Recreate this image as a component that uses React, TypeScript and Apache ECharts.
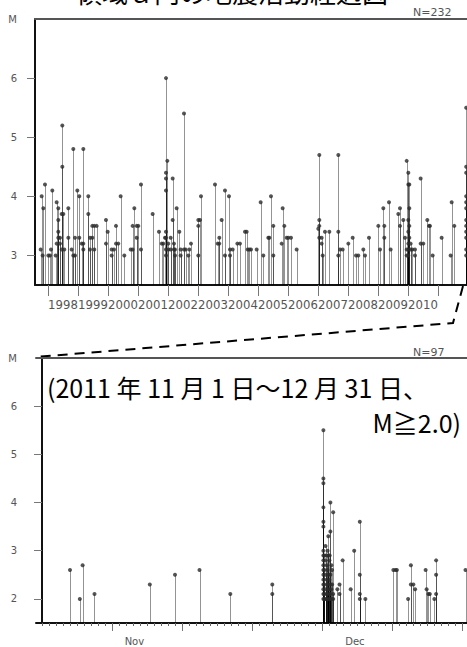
import React, { useEffect, useRef } from "react";
import * as echarts from "echarts";

const TITLE = "領域ａ内の地震活動経過図";
const TOP_N_LABEL = "N=232";
const BOTTOM_N_LABEL = "N=97";
const NOTE_LINE1 = "(2011 年 11 月 1 日～12 月 31 日、";
const NOTE_LINE2 = "M≧2.0)";

const TOP_YEAR_TICKS = [1998, 1999, 2000, 2001, 2002, 2003, 2004, 2005, 2006, 2007, 2008, 2009, 2010, 2011];
const TOP_YEAR_LABELS = [1998, 1999, 2000, 2001, 2002, 2003, 2004, 2005, 2006, 2007, 2008, 2009, 2010];
const TOP_M_TICKS = [3, 4, 5, 6];
const TOP_M_LABELS = [3, 4, 5, 6, 7];
const BOTTOM_M_TICKS = [2, 3, 4, 5, 6];
const BOTTOM_M_LABELS = [2, 3, 4, 5, 6, 7];
const MONTH_LABELS = ["Nov", "Dec"];
const MONTH_LABEL_DAYS = [13.2, 44.7];
const BOTTOM_MAJOR_TICK_DAYS = [10, 20, 30, 40, 50, 60];
const BOTTOM_DAY_TICKS = Array.from({ length: 61 }, (_, i) => i);

// [decimal year, magnitudes at that time]
const TOP_EVENTS: [number, number[]][] = [
  [1997.756, [3.1]], [1997.789, [4.0]], [1997.822, [3.0]], [1997.844, [3.8]], [1997.9, [4.2]],
  [1998.011, [3.0]], [1998.067, [3.0]], [1998.1, [3.1]], [1998.144, [4.1]], [1998.256, [3.0]],
  [1998.289, [3.9, 3.2]], [1998.344, [3.3, 3.8, 3.6, 3.4]], [1998.4, [3.3, 3.2]], [1998.456, [3.1, 3.7]],
  [1998.478, [5.2, 4.5]], [1998.511, [3.7]], [1998.544, [3.1]], [1998.678, [3.8, 3.3]], [1998.789, [3.1]],
  [1998.844, [4.8, 3.0]], [1998.9, [3.3, 3.0]], [1998.978, [4.1]], [1999.044, [4.0, 3.3]], [1999.122, [3.2]],
  [1999.178, [4.8, 3.2, 3.1]], [1999.344, [4.0, 3.7]], [1999.4, [3.3, 3.1]], [1999.478, [3.5, 3.3]],
  [1999.544, [3.5, 3.1]], [1999.622, [3.5]], [1999.933, [3.6, 3.2]], [1999.989, [3.4]],
  [2000.122, [3.1, 3.0]], [2000.2, [3.1]], [2000.267, [3.5, 3.2]], [2000.344, [3.2]], [2000.422, [4.0]],
  [2000.544, [3.0]], [2000.756, [3.1]], [2000.822, [3.5, 3.1]], [2000.878, [3.8]], [2000.956, [3.5, 3.3]],
  [2001.011, [3.5]], [2001.1, [4.2, 3.1]], [2001.489, [3.7]], [2001.7, [3.4]], [2001.789, [3.2]],
  [2001.844, [3.2]], [2001.9, [3.3]], [2001.933, [6.0, 4.4, 4.3, 4.1, 3.4, 3.3, 3.1, 3.0]],
  [2001.978, [4.6]], [2002.011, [3.2, 3.1]], [2002.089, [3.3, 3.1]], [2002.156, [4.3, 3.6]],
  [2002.2, [3.2, 3.1]], [2002.233, [3.1, 3.0]], [2002.289, [3.8]], [2002.378, [3.4]], [2002.422, [3.1, 3.0]],
  [2002.533, [5.4, 3.1]], [2002.589, [3.1]], [2002.678, [3.0]], [2002.711, [3.1]], [2002.767, [3.2]],
  [2003.011, [3.5, 3.6, 3.0]], [2003.067, [3.6]], [2003.1, [4.0]], [2003.567, [4.2]], [2003.656, [3.2]],
  [2003.711, [3.3, 3.2]], [2003.789, [3.6]], [2003.9, [4.1, 3.0]], [2004.033, [4.0]], [2004.067, [3.1, 3.0]],
  [2004.156, [3.1]], [2004.311, [3.2]], [2004.4, [3.2]], [2004.567, [3.4]], [2004.622, [3.4]],
  [2004.656, [3.1]], [2004.711, [3.1]], [2004.767, [3.1]], [2004.956, [3.1]], [2005.089, [3.9]],
  [2005.178, [3.0]], [2005.344, [3.3]], [2005.378, [3.3]], [2005.433, [4.0]], [2005.511, [3.5, 3.0]],
  [2005.789, [3.2]], [2005.822, [3.8]], [2005.878, [3.5]], [2005.956, [3.3]], [2006.011, [3.3]],
  [2006.1, [3.3]], [2006.289, [3.1]], [2007.011, [3.45]], [2007.044, [4.7, 3.6, 3.5, 3.3]],
  [2007.122, [3.3, 3.2]], [2007.156, [3.0]], [2007.233, [3.4]], [2007.378, [3.4]], [2007.678, [4.7, 3.4, 3.0]],
  [2007.733, [3.1]], [2007.822, [3.1]], [2008.011, [3.2]], [2008.156, [3.3]], [2008.267, [3.0]],
  [2008.344, [3.0]], [2008.511, [3.1]], [2008.567, [3.0]], [2008.7, [3.3]], [2009.011, [3.5]],
  [2009.067, [3.1]], [2009.178, [3.8]], [2009.211, [3.5, 3.3]], [2009.367, [3.9]], [2009.422, [3.1]],
  [2009.678, [3.7]], [2009.733, [3.8, 3.5]], [2009.844, [3.6]], [2009.9, [3.3]], [2009.956, [4.6, 3.1, 3.0]],
  [2010.011, [4.4, 4.2, 3.6, 3.4, 3.2, 3.1, 3.0]], [2010.044, [4.2, 3.8, 3.5, 3.3]], [2010.089, [3.2, 3.1]],
  [2010.144, [3.1]], [2010.233, [3.1, 3.0]], [2010.422, [4.3, 3.2]], [2010.511, [3.2]], [2010.644, [3.6]],
  [2010.7, [3.5]], [2010.733, [3.5]], [2010.822, [3.0]], [2011.122, [3.3]], [2011.422, [3.0]],
  [2011.456, [3.9]], [2011.544, [3.5]],
  [2011.94, [5.5, 4.5, 4.4, 4.0, 3.9, 3.8, 3.6, 3.5, 3.4, 3.3, 3.1, 3.0]],
];

// [days since 1 Nov 2011 00:00, magnitudes]
const BOTTOM_EVENTS: [number, number[]][] = [
  [4.0, [2.6]], [5.4, [2.0]], [5.8, [2.7]], [7.5, [2.1]], [15.4, [2.3]], [19.0, [2.5]],
  [22.5, [2.6]], [26.9, [2.1]], [32.9, [2.3, 2.1]],
  [40.2, [5.5, 4.5, 4.4, 3.9, 3.6, 3.5, 3.0, 2.9, 2.8, 2.7, 2.6, 2.5, 2.4, 2.3, 2.2, 2.1, 2.0]],
  [40.35, [2.9, 2.6, 2.3, 2.1, 2.0]], [40.5, [3.1, 2.8, 2.5, 2.2, 2.0]], [40.65, [2.9, 2.7, 2.4, 2.1]],
  [40.8, [3.0, 2.6, 2.3, 2.0]], [40.9, [3.3, 2.9, 2.5, 2.2]], [41.05, [2.8, 2.4, 2.1, 2.0]],
  [41.1, [2.9, 2.2]], [41.2, [4.0, 3.4, 2.5, 2.3, 2.1]], [41.35, [2.7, 2.2, 2.0]], [41.45, [2.6, 2.3]],
  [41.6, [3.8, 2.1, 2.0]],
  [42.2, [2.2]], [42.5, [2.3, 2.1]], [42.95, [2.8]], [44.1, [2.2]], [44.6, [3.0]],
  [45.4, [3.6, 2.5, 2.1, 2.0]], [46.2, [2.0]], [50.2, [2.6]], [50.5, [2.6]], [50.7, [2.6]],
  [52.3, [2.0]], [52.7, [2.7, 2.3]], [53.05, [2.3]], [53.3, [2.2]], [54.8, [2.6]], [54.95, [2.2]],
  [55.2, [2.1]], [55.4, [2.1]], [56.05, [2.0]], [56.3, [2.8, 2.5, 2.1]], [60.5, [2.6]],
];

const TOP_X_RANGE = [1997.567, 2011.967];
const TOP_Y_RANGE = [2.5, 7];
const BOT_X_RANGE = [-0.857, 60.714];
const BOT_Y_RANGE = [1.5, 7];

const flatten = (ev: [number, number[]][]) =>
  ev.flatMap(([t, ms]) => ms.map((m) => [t, m]));

const AXIS_FONT = "DejaVu Sans";

function stemSeries(data: number[][], xi: number, yi: number, base: number) {
  return {
    type: "custom",
    xAxisIndex: xi,
    yAxisIndex: yi,
    data,
    encode: { x: 0, y: 1 },
    clip: true,
    silent: true,
    renderItem: (_p: any, api: any) => {
      const top = api.coord([api.value(0), api.value(1)]);
      const bot = api.coord([api.value(0), base]);
      const x = Math.round(top[0]) + 0.5;
      return {
        type: "line",
        shape: { x1: x, y1: bot[1], x2: x, y2: top[1] },
        style: { stroke: "rgba(0,0,0,0.42)", lineWidth: 1 },
      };
    },
  };
}

function dotSeries(data: number[][], xi: number, yi: number) {
  return {
    type: "scatter",
    xAxisIndex: xi,
    yAxisIndex: yi,
    data,
    symbol: "circle",
    symbolSize: 4,
    itemStyle: { color: "#2a2a2a" },
    silent: true,
  };
}

function yAxis(gridIndex: number, range: number[], ticks: number[], labels: number[], margin: number) {
  return {
    type: "value",
    gridIndex,
    min: range[0],
    max: range[1],
    splitLine: { show: false },
    axisLine: { show: true, lineStyle: { color: "#111", width: 2 } },
    axisTick: { show: true, length: 8, customValues: ticks, lineStyle: { color: "#777", width: 1 } },
    axisLabel: {
      customValues: labels,
      formatter: (v: number) => (v === labels[labels.length - 1] ? "M" : String(v)),
      color: "#555",
      fontSize: 10,
      fontFamily: AXIS_FONT,
      margin,
      showMinLabel: true,
      showMaxLabel: true,
    },
  };
}

function borderAxis(gridIndex: number, range: number[]) {
  return {
    type: "value",
    gridIndex,
    position: "top",
    min: range[0],
    max: range[1],
    splitLine: { show: false },
    axisLine: { show: true, onZero: false, lineStyle: { color: "#555", width: 2 } },
    axisTick: { show: false },
    axisLabel: { show: false },
  };
}

const topData = flatten(TOP_EVENTS);
const botData = flatten(BOTTOM_EVENTS);

const option: any = {
  animation: false,
  backgroundColor: "#fff",
  grid: [
    { left: 35, right: 0, top: 19, bottom: 362 },
    { left: 36, right: 0, top: 358, bottom: 24 },
  ],
  xAxis: [
    {
      type: "value",
      gridIndex: 0,
      position: "bottom",
      min: TOP_X_RANGE[0],
      max: TOP_X_RANGE[1],
      splitLine: { show: false },
      axisLine: { show: true, onZero: false, lineStyle: { color: "#111", width: 2 } },
      axisTick: { show: true, length: 11, customValues: TOP_YEAR_TICKS, lineStyle: { color: "#777", width: 1 } },
      axisLabel: {
        customValues: TOP_YEAR_LABELS.map((y) => y + 0.5),
        formatter: (v: number) => String(Math.floor(v)),
        color: "#555",
        fontSize: 11.7,
        fontFamily: AXIS_FONT,
        margin: 14,
        showMinLabel: true,
        showMaxLabel: true,
        hideOverlap: false,
      },
    },
    borderAxis(0, TOP_X_RANGE),
    {
      type: "value",
      gridIndex: 1,
      position: "bottom",
      min: BOT_X_RANGE[0],
      max: BOT_X_RANGE[1],
      splitLine: { show: false },
      axisLine: { show: true, onZero: false, lineStyle: { color: "#111", width: 2 } },
      axisTick: { show: true, length: 8, customValues: BOTTOM_MAJOR_TICK_DAYS, lineStyle: { color: "#777", width: 1 } },
      axisLabel: {
        customValues: MONTH_LABEL_DAYS,
        formatter: (v: number) => MONTH_LABELS[MONTH_LABEL_DAYS.indexOf(v)] ?? "",
        color: "#555",
        fontSize: 10,
        fontFamily: AXIS_FONT,
        margin: 13,
        showMinLabel: true,
        showMaxLabel: true,
      },
    },
    {
      type: "value",
      gridIndex: 1,
      position: "bottom",
      min: BOT_X_RANGE[0],
      max: BOT_X_RANGE[1],
      splitLine: { show: false },
      axisLine: { show: false, onZero: false },
      axisTick: { show: true, length: 3, customValues: BOTTOM_DAY_TICKS, lineStyle: { color: "#666", width: 1 } },
      axisLabel: { show: false },
    },
    borderAxis(1, BOT_X_RANGE),
  ],
  yAxis: [
    yAxis(0, TOP_Y_RANGE, TOP_M_TICKS, TOP_M_LABELS, 18),
    yAxis(1, BOT_Y_RANGE, BOTTOM_M_TICKS, BOTTOM_M_LABELS, 19),
  ],
  series: [
    stemSeries(topData, 0, 0, TOP_Y_RANGE[0]),
    dotSeries(topData, 0, 0),
    stemSeries(botData, 2, 1, BOT_Y_RANGE[0]),
    dotSeries(botData, 2, 1),
  ],
  graphic: [
    {
      type: "text",
      x: 232,
      y: -9,
      style: {
        text: TITLE,
        fontSize: 26,
        fontFamily: "Noto Sans CJK JP",
        fill: "#000",
        textAlign: "center",
        textVerticalAlign: "middle",
      },
    },
    {
      type: "text",
      x: 413,
      y: 12,
      style: { text: TOP_N_LABEL, fontSize: 11, fontFamily: AXIS_FONT, fill: "#555", textVerticalAlign: "middle" },
    },
    {
      type: "text",
      x: 413,
      y: 352,
      style: { text: BOTTOM_N_LABEL, fontSize: 11, fontFamily: AXIS_FONT, fill: "#555", textVerticalAlign: "middle" },
    },
    {
      type: "polyline",
      shape: { points: [[463, 286], [453, 323], [36, 357]] },
      style: { stroke: "#000", lineWidth: 2, lineDash: [10, 7], fill: null },
    },
    {
      type: "text",
      x: 47,
      y: 387,
      style: {
        text: NOTE_LINE1,
        fontSize: 25,
        fontFamily: "Noto Sans CJK JP",
        fill: "#000",
        textVerticalAlign: "middle",
      },
    },
    {
      type: "text",
      x: 461,
      y: 422,
      style: {
        text: NOTE_LINE2,
        fontSize: 25,
        fontFamily: "Noto Sans CJK JP",
        fill: "#000",
        textAlign: "right",
        textVerticalAlign: "middle",
      },
    },
  ],
};

export default function App() {
  const ref = useRef<HTMLDivElement>(null);
  useEffect(() => {
    const chart = echarts.init(ref.current!, undefined, { renderer: "svg" });
    chart.setOption(option);
    return () => chart.dispose();
  }, []);
  return (
    <div
      ref={ref}
      style={{ position: "absolute", left: 0, top: 0, width: 467, height: 647, background: "#fff" }}
    />
  );
}
